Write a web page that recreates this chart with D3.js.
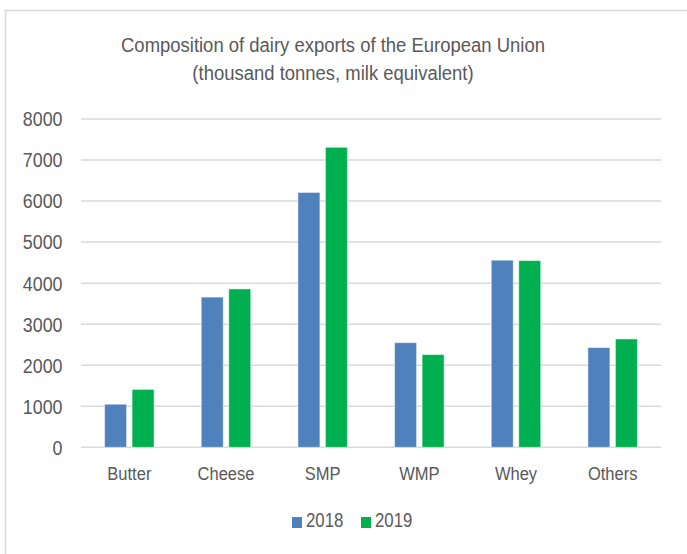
<!DOCTYPE html>
<html>
<head>
<meta charset="utf-8">
<script src="https://cdn.jsdelivr.net/npm/d3@7"></script>
<style>
  body { margin: 0; background: #fff; }
  text { font-family: "Liberation Sans", Arial, sans-serif; fill: #595959; }
</style>
</head>
<body>
<svg id="chart" width="687" height="554"></svg>
<script>
const categories = ["Butter", "Cheese", "SMP", "WMP", "Whey", "Others"];
const seriesNames = ["2018", "2019"];
const values2018 = [1050, 3660, 6210, 2550, 4560, 2430];
const values2019 = [1410, 3860, 7310, 2260, 4550, 2640];
const yTicks = [0, 1000, 2000, 3000, 4000, 5000, 6000, 7000, 8000];
const colors = ["#4f81bd", "#00b050"];

const svg = d3.select("#chart");

// the source picture is squeezed sideways, so text is drawn tall and narrow
const squeeze = (x, y, sx) => `translate(${x},${y}) scale(${sx},1)`;

// chart frame (only top and left edges are visible in the crop)
svg.append("rect")
  .attr("x", 5.5).attr("y", 10.5)
  .attr("width", 700).attr("height", 600)
  .style("fill", "#fff")
  .style("stroke", "#d9d9d9")
  .style("stroke-width", 1.5);

const margin = {left: 81, right: 661, top: 119, bottom: 447.3};

const y = d3.scaleLinear().domain([0, 8000]).range([margin.bottom, margin.top]);
const x0 = d3.scaleBand().domain(categories)
  .range([margin.left, margin.right])
  .paddingInner(0.488).paddingOuter(0.244);
const x1 = d3.scaleBand().domain(seriesNames)
  .range([0, x0.bandwidth()])
  .paddingInner(0.2);

// gridlines
svg.append("g")
  .selectAll("line")
  .data(yTicks)
  .join("line")
  .attr("x1", margin.left).attr("x2", margin.right)
  .attr("y1", d => y(d)).attr("y2", d => y(d))
  .style("stroke", "#d9d9d9")
  .style("stroke-width", 1.5);

// y labels
svg.append("g")
  .selectAll("text")
  .data(yTicks)
  .join("text")
  .attr("transform", d => squeeze(62.5, y(d), 0.87))
  .attr("dy", "0.36em")
  .attr("text-anchor", "end")
  .style("font-size", "20.5px")
  .text(d => d);

// bars
const data = categories.map((c, i) => ({category: c, vals: [values2018[i], values2019[i]]}));
const groups = svg.append("g")
  .selectAll("g")
  .data(data)
  .join("g")
  .attr("transform", d => `translate(${x0(d.category)},0)`);

groups.selectAll("rect")
  .data(d => d.vals.map((v, j) => ({series: seriesNames[j], value: v, idx: j})))
  .join("rect")
  .attr("x", d => x1(d.series))
  .attr("y", d => y(d.value))
  .attr("width", x1.bandwidth())
  .attr("height", d => y(0) - y(d.value))
  .style("fill", d => colors[d.idx])
  .style("stroke", "rgba(255,255,255,0.5)")
  .style("stroke-width", 1);

// category labels
svg.append("g")
  .selectAll("text")
  .data(categories)
  .join("text")
  .attr("transform", d => squeeze(x0(d) + x0.bandwidth() / 2, 480, 0.87))
  .attr("text-anchor", "middle")
  .style("font-size", "19px")
  .text(d => d);

// title
svg.append("text")
  .attr("transform", squeeze(333, 52.3, 0.88))
  .attr("text-anchor", "middle")
  .style("font-size", "21px")
  .text("Composition of dairy exports of the European Union");
svg.append("text")
  .attr("transform", squeeze(333, 79.5, 0.88))
  .attr("text-anchor", "middle")
  .style("font-size", "21px")
  .text("(thousand tonnes, milk equivalent)");

// legend
const legend = svg.append("g").attr("transform", "translate(292,522)");
const items = legend.selectAll("g")
  .data(seriesNames)
  .join("g")
  .attr("transform", (d, i) => `translate(${i * 69},0)`);
items.append("rect")
  .attr("x", 0).attr("y", -5)
  .attr("width", 10).attr("height", 11)
  .style("fill", (d, i) => colors[i]);
items.append("text")
  .attr("transform", squeeze(14, 5.3, 0.8))
  .style("font-size", "21px")
  .text(d => d);
</script>
</body>
</html>
